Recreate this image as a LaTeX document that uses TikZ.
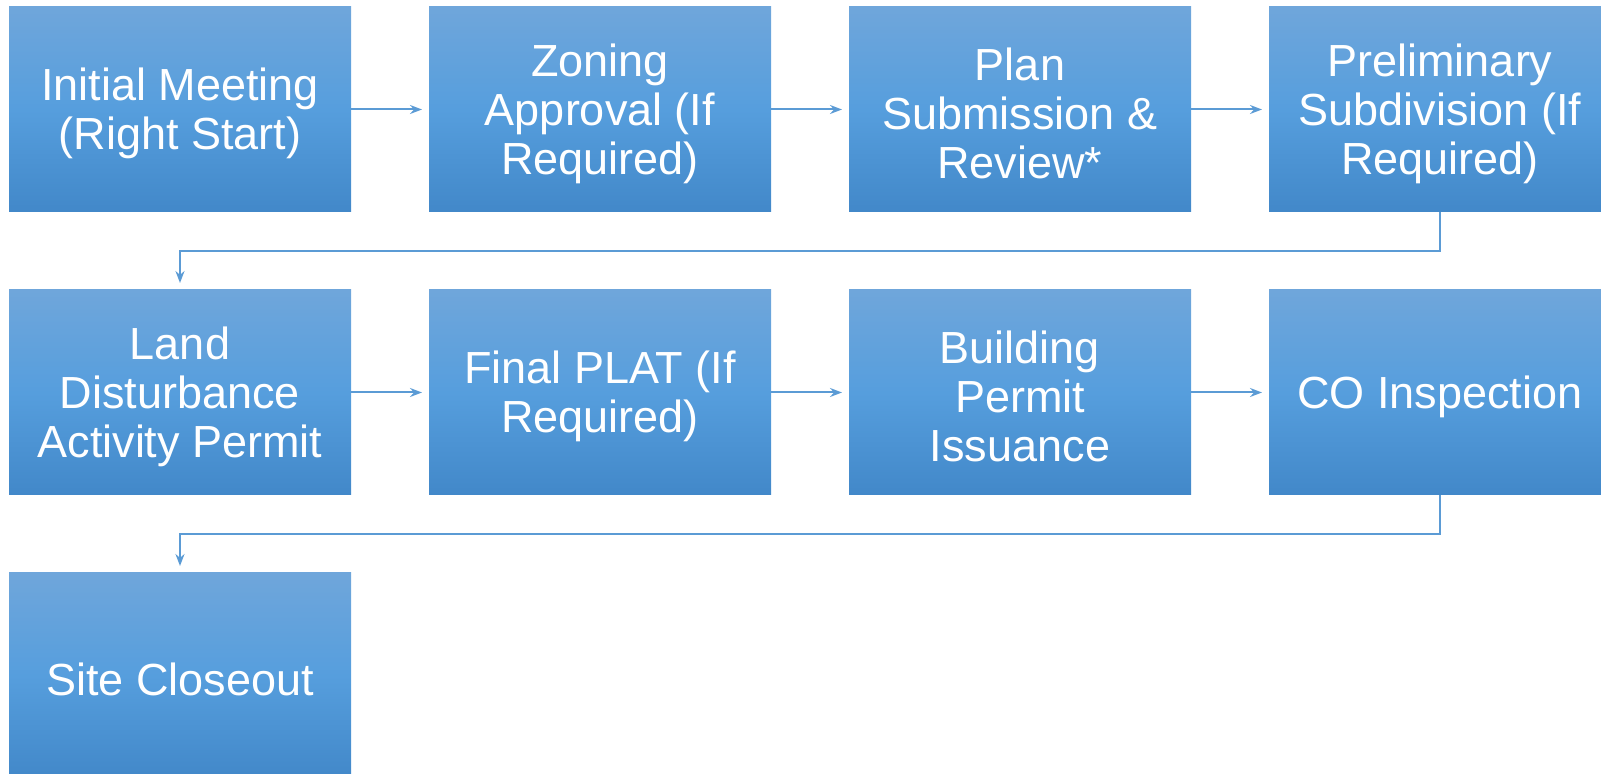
\documentclass[tikz,border=0pt]{standalone}
\usepackage{fontspec}
\setmainfont{Liberation Sans}
\usetikzlibrary{
	arrows.meta,
	positioning
}
\definecolor{boxtop}{RGB}{111,166,219}
\definecolor{boxmid}{RGB}{86,158,221}
\definecolor{boxbot}{RGB}{66,136,201}
\definecolor{linkblue}{RGB}{91,155,213}

\tikzset{
	steptext/.style={text=white, align=center, yshift=-2pt,
		font=\fontsize{22.5}{24.5}\selectfont},
	stepbox/.style={rectangle, minimum width=171pt, minimum height=102.5pt,
		inner sep=0pt, outer sep=0pt,
		top color=boxtop, bottom color=boxbot, middle color=boxmid,
		label={[steptext]center:{#1}}},
	link/.style={draw=linkblue, line width=1pt,
		-{Stealth[length=6pt,width=4.5pt,inset=2pt]}, shorten >=3.5pt}
}

\begin{document}
\begin{tikzpicture}[node distance=39pt]

\useasboundingbox (0,0) rectangle (800.5pt,-387pt);
\clip (0,0) rectangle (800.5pt,-387pt);

% First row
\node[stepbox={Initial Meeting\\(Right Start)}] (meet) at (90pt,-54.75pt) {};
\node[stepbox={Zoning\\Approval (If\\Required)}, right=of meet] (zoning) {};
\node[stepbox={Plan\\Submission \&\\Review*}, right=of zoning] (plan) {};
\node[stepbox={Preliminary\\Subdivision (If\\Required)}, right=of plan] (prelim) {};

% Second row
\node[stepbox={Land\\Disturbance\\Activity Permit}, below=of meet] (land) {};
\node[stepbox={Final PLAT (If\\Required)}, right=of land] (plat) {};
\node[stepbox={Building\\Permit\\Issuance}, right=of plat] (build) {};
\node[stepbox={CO Inspection}, right=of build] (co) {};

% Third row
\node[stepbox={Site Closeout}, below=of land] (close) {};

% Connectors
\draw[link] (meet) -- (zoning);
\draw[link] (zoning) -- (plan);
\draw[link] (plan) -- (prelim);
\draw[link] (prelim.south) -- ++(0,-19.5pt) -| (land.north);
\draw[link] (land) -- (plat);
\draw[link] (plat) -- (build);
\draw[link] (build) -- (co);
\draw[link] (co.south) -- ++(0,-19.5pt) -| (close.north);

\end{tikzpicture}
\end{document}
